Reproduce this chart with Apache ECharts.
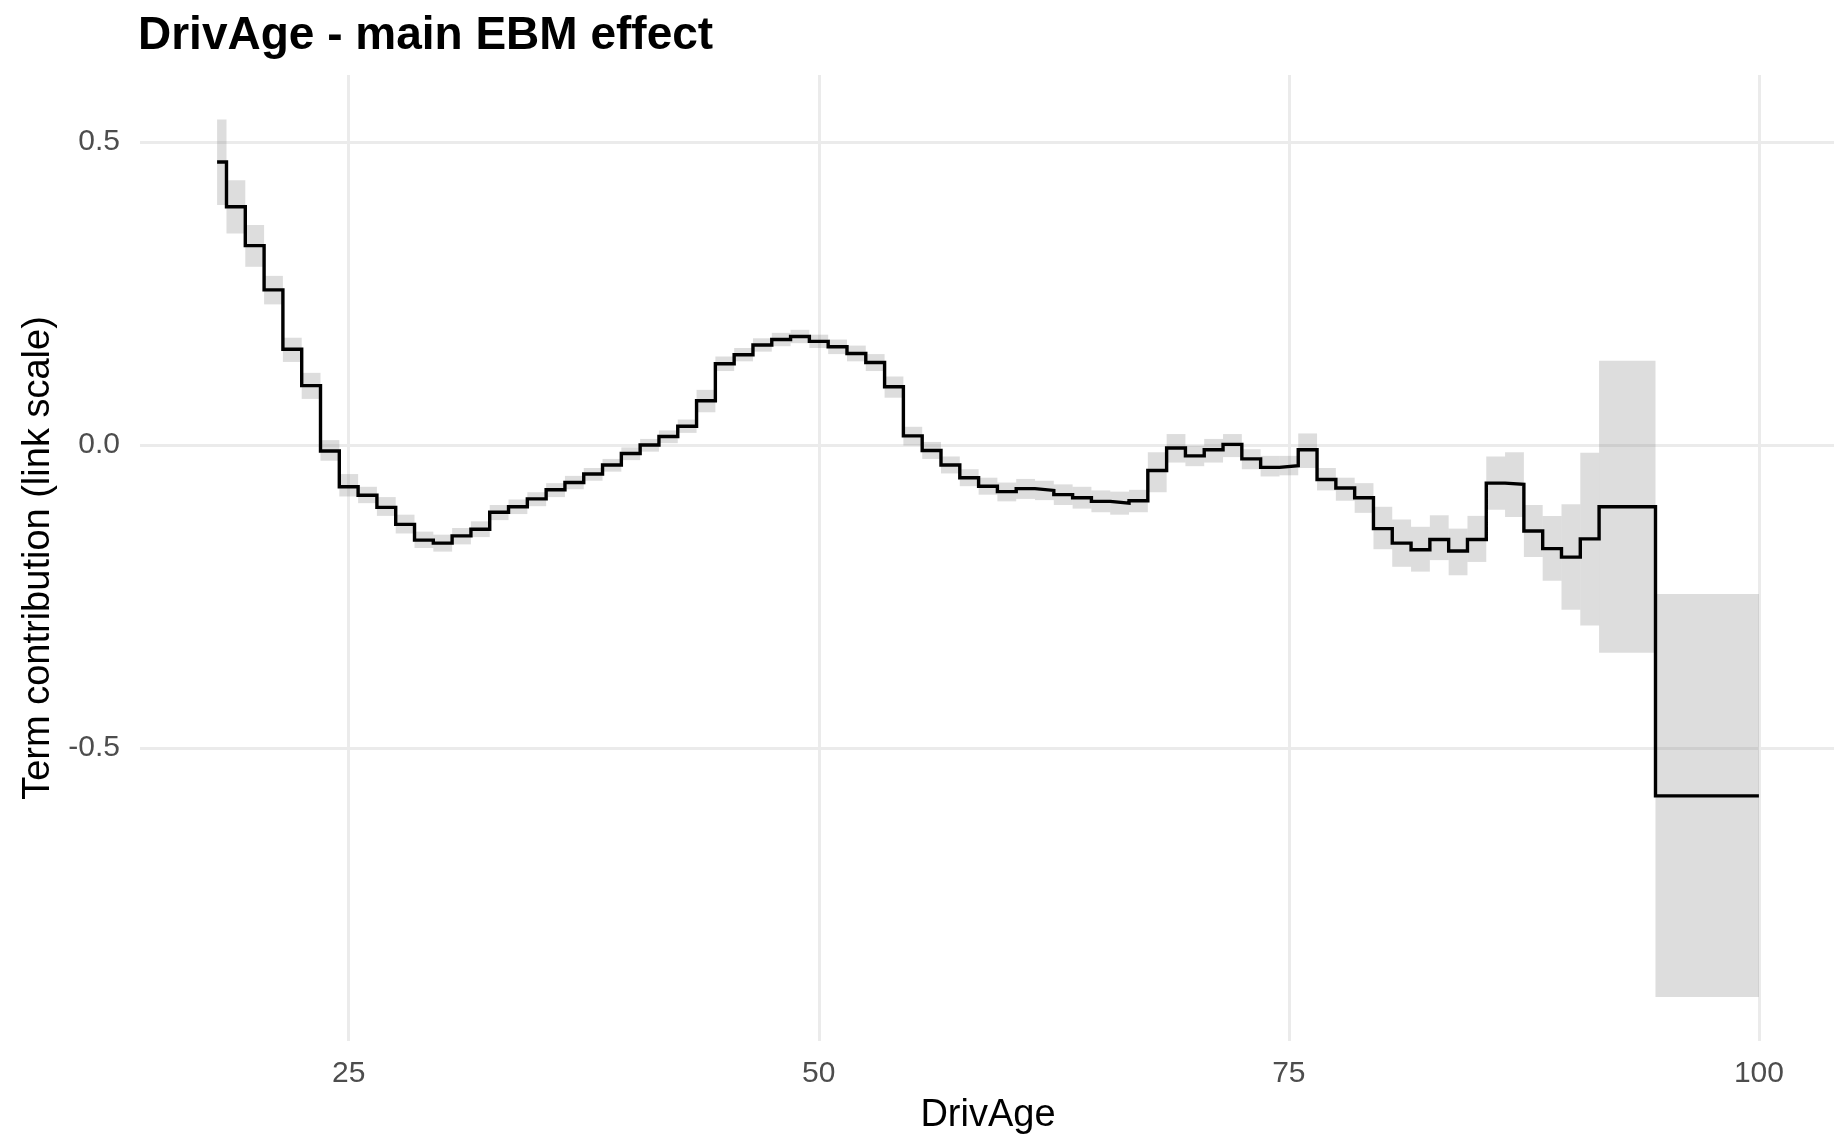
<!DOCTYPE html>
<html>
<head>
<meta charset="utf-8">
<title>DrivAge - main EBM effect</title>
<script src="https://cdn.jsdelivr.net/npm/echarts@6/dist/echarts.min.js"></script>
<style>
  html, body { margin: 0; padding: 0; background: #ffffff; }
  #chart { width: 1834px; height: 1134px; }
</style>
</head>
<body>
<div id="chart"></div>
<script>
// Bin edges of DrivAge (bins are centred on whole ages, last two bins are wider)
const binEdges = [
  18, 18.5, 19.5, 20.5, 21.5, 22.5, 23.5, 24.5, 25.5, 26.5, 27.5, 28.5, 29.5, 30.5,
  31.5, 32.5, 33.5, 34.5, 35.5, 36.5, 37.5, 38.5, 39.5, 40.5, 41.5, 42.5, 43.5, 44.5,
  45.5, 46.5, 47.5, 48.5, 49.5, 50.5, 51.5, 52.5, 53.5, 54.5, 55.5, 56.5, 57.5, 58.5,
  59.5, 60.5, 61.5, 62.5, 63.5, 64.5, 65.5, 66.5, 67.5, 68.5, 69.5, 70.5, 71.5, 72.5,
  73.5, 74.5, 75.5, 76.5, 77.5, 78.5, 79.5, 80.5, 81.5, 82.5, 83.5, 84.5, 85.5, 86.5,
  87.5, 88.5, 89.5, 90.5, 91.5, 94.5, 100
];

// Term contribution per bin (link scale)
const effect = [
  0.467,
  0.393, 0.329, 0.256, 0.158, 0.098, -0.010,
  -0.069, -0.083, -0.103, -0.131, -0.157, -0.162,
  -0.150, -0.139, -0.111, -0.102, -0.089, -0.074, -0.062, -0.048, -0.033, -0.014,
  0.000, 0.014, 0.031, 0.073, 0.134, 0.149, 0.165, 0.174, 0.179, 0.171,
  0.162, 0.151, 0.136, 0.096, 0.015, -0.009, -0.033, -0.054, -0.068, -0.077,
  -0.072, -0.075, -0.082, -0.087, -0.093, -0.096, -0.092, -0.042, -0.005, -0.018,
  -0.008, 0.001, -0.023, -0.037, -0.034, -0.008, -0.057, -0.071, -0.087, -0.138,
  -0.162, -0.173, -0.156, -0.175, -0.156, -0.063, -0.065, -0.142, -0.171, -0.185,
  -0.155,
  -0.102,
  -0.579
];

// Lower and upper bounds of the uncertainty band per bin
const lower = [
  0.396,
  0.349, 0.294, 0.232, 0.137, 0.076, -0.026,
  -0.085, -0.096, -0.117, -0.146, -0.170, -0.176,
  -0.164, -0.152, -0.124, -0.114, -0.101, -0.086, -0.073, -0.059, -0.044, -0.025,
  -0.011, 0.003, 0.020, 0.054, 0.122, 0.138, 0.154, 0.163, 0.168, 0.160,
  0.150, 0.138, 0.122, 0.078, -0.001, -0.023, -0.047, -0.068, -0.082, -0.093,
  -0.089, -0.091, -0.099, -0.105, -0.111, -0.115, -0.111, -0.078, -0.029, -0.035,
  -0.029, -0.020, -0.040, -0.052, -0.050, -0.038, -0.075, -0.092, -0.112, -0.172,
  -0.201, -0.209, -0.190, -0.215, -0.193, -0.107, -0.119, -0.185, -0.224, -0.272,
  -0.298,
  -0.343,
  -0.911
];
const upper = [
  0.537,
  0.437, 0.363, 0.279, 0.177, 0.119, 0.008,
  -0.048, -0.069, -0.086, -0.115, -0.143, -0.148,
  -0.137, -0.126, -0.099, -0.090, -0.078, -0.063, -0.051, -0.038, -0.023, -0.004,
  0.010, 0.024, 0.042, 0.091, 0.146, 0.160, 0.176, 0.185, 0.190, 0.182,
  0.174, 0.164, 0.150, 0.113, 0.030, 0.005, -0.019, -0.040, -0.054, -0.062,
  -0.056, -0.059, -0.065, -0.069, -0.075, -0.077, -0.074, -0.012, 0.018, -0.001,
  0.010, 0.018, -0.007, -0.018, -0.018, 0.019, -0.038, -0.054, -0.063, -0.102,
  -0.123, -0.135, -0.116, -0.138, -0.117, -0.019, -0.012, -0.099, -0.117, -0.098,
  -0.013,
  0.139,
  -0.246
];

// Axis ticks
const xTicks = [25, 50, 75, 100];
const yTicks = [-0.5, 0, 0.5];

const FONT = '"Liberation Sans", Arial, Helvetica, sans-serif';

// Band rectangles: [x0, x1, low, high]
const bandData = effect.map((_, i) => [binEdges[i], binEdges[i + 1], lower[i], upper[i]]);
// Step line points: each bin value starts at its left edge, closed at the last edge
const lineData = effect.map((v, i) => [binEdges[i], v]);
lineData.push([binEdges[binEdges.length - 1], effect[effect.length - 1]]);

const chart = echarts.init(document.getElementById('chart'), null, { renderer: 'canvas' });

chart.setOption({
  animation: false,
  backgroundColor: '#ffffff',
  title: {
    text: 'DrivAge - main EBM effect',
    left: 138,
    top: 13,
    padding: 0,
    textStyle: { fontFamily: FONT, fontSize: 46, fontWeight: 'bold', color: '#000000' }
  },
  grid: {
    left: 140,
    top: 75,
    width: 1696,
    height: 966,
    containLabel: false,
    outerBoundsMode: 'none'
  },
  xAxis: {
    type: 'value',
    min: 13.9,
    max: 104.1,
    name: 'DrivAge',
    nameLocation: 'middle',
    nameGap: 56,
    nameTextStyle: { fontFamily: FONT, fontSize: 38, color: '#000000' },
    axisLine: { show: false },
    axisTick: { show: false, customValues: xTicks },
    axisLabel: {
      customValues: xTicks,
      margin: 18,
      fontFamily: FONT,
      fontSize: 30,
      color: '#4d4d4d',
      formatter: v => String(v)
    },
    splitLine: { show: true, lineStyle: { color: '#ebebeb', width: 3 } }
  },
  yAxis: {
    type: 'value',
    min: -0.9835,
    max: 0.6105,
    name: 'Term contribution (link scale)',
    nameLocation: 'middle',
    nameRotate: 90,
    nameGap: 80,
    nameTextStyle: { fontFamily: FONT, fontSize: 38, color: '#000000' },
    axisLine: { show: false },
    axisTick: { show: false, customValues: yTicks },
    axisLabel: {
      customValues: yTicks,
      margin: 20,
      fontFamily: FONT,
      fontSize: 30,
      color: '#4d4d4d',
      formatter: v => v.toFixed(1)
    },
    splitLine: { show: true, lineStyle: { color: '#ebebeb', width: 3 } }
  },
  series: [
    {
      type: 'custom',
      name: 'band',
      data: bandData,
      encode: { x: [0, 1], y: [2, 3] },
      clip: true,
      silent: true,
      z: 2,
      renderItem: function (params, api) {
        const p0 = api.coord([api.value(0), api.value(3)]);
        const p1 = api.coord([api.value(1), api.value(2)]);
        return {
          type: 'rect',
          shape: { x: p0[0], y: p0[1], width: p1[0] - p0[0], height: p1[1] - p0[1] },
          style: { fill: 'rgba(128,128,128,0.27)' }
        };
      }
    },
    {
      type: 'line',
      name: 'effect',
      data: lineData,
      step: 'end',
      showSymbol: false,
      symbol: 'none',
      silent: true,
      z: 3,
      lineStyle: { color: '#000000', width: 3.4, join: 'miter', cap: 'butt' }
    }
  ]
});
</script>
</body>
</html>
